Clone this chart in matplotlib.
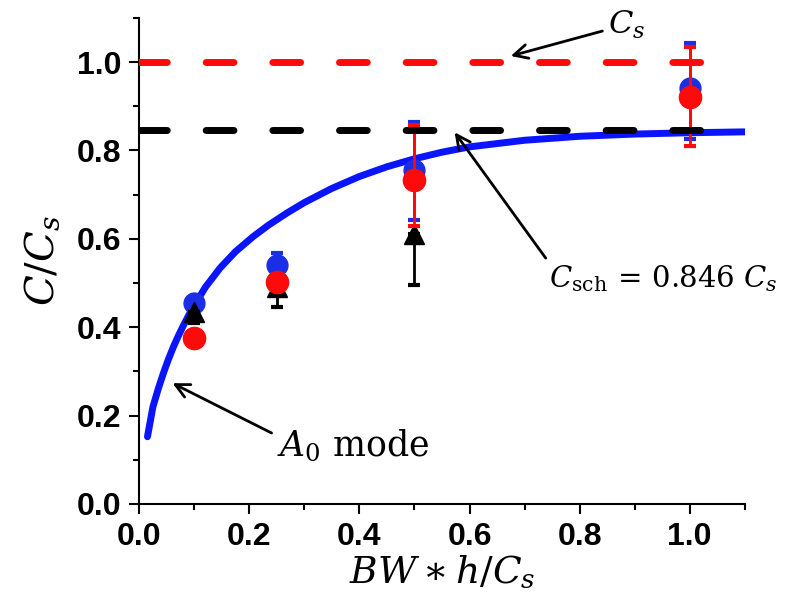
import matplotlib
matplotlib.use("Agg")
import matplotlib.pyplot as plt
import numpy as np

plt.rcParams["mathtext.fontset"] = "dejavuserif"

# measured points (x = BW*h/Cs)
x_meas = [0.1, 0.25, 0.5, 1.0]
blue_y = [0.455, 0.540, 0.756, 0.941]
blue_lo = [0.445, 0.525, 0.642, 0.826]
blue_hi = [0.465, 0.568, 0.864, 1.043]
red_y = [0.376, 0.502, 0.733, 0.921]
red_lo = [0.370, 0.495, 0.629, 0.810]
red_hi = [0.382, 0.510, 0.857, 1.034]
x_tri = [0.1, 0.25, 0.5]
tri_y = [0.434, 0.490, 0.610]
tri_lo = [0.410, 0.446, 0.495]

# A0 mode curve
curve_x = [0.015, 0.025, 0.035, 0.044, 0.053, 0.062, 0.071, 0.08, 0.09, 0.1,
           0.12, 0.147, 0.175, 0.207, 0.235, 0.268, 0.3, 0.35, 0.4, 0.45,
           0.5, 0.55, 0.6, 0.7, 0.8, 0.9, 1.0, 1.1]
curve_y = [0.152, 0.22, 0.262, 0.296, 0.327, 0.355, 0.38, 0.403, 0.427, 0.449,
           0.49, 0.534, 0.571, 0.605, 0.631, 0.658, 0.682, 0.714, 0.741, 0.763,
           0.781, 0.796, 0.808, 0.823, 0.832, 0.837, 0.840, 0.842]

cs_level = 1.0
csch_level = 0.846
line_end = 1.04

fig = plt.figure(figsize=(8, 6.16), dpi=100)
ax = fig.add_axes([0.174, 0.182, 0.757, 0.789])

ax.plot(curve_x, curve_y, color="#0a14ff", lw=5, solid_capstyle="round",
        solid_joinstyle="round", zorder=2)

ax.errorbar(x_meas, blue_y,
            yerr=[np.subtract(blue_y, blue_lo), np.subtract(blue_hi, blue_y)],
            fmt="o", color="#1a2ee6", ms=15, elinewidth=2, capsize=4,
            capthick=3, zorder=3)
ax.errorbar(x_tri, tri_y, yerr=[np.subtract(tri_y, tri_lo), np.zeros(3)],
            fmt="^", color="black", ms=15, elinewidth=2, capsize=4,
            capthick=3, zorder=4)
ax.errorbar(x_meas, red_y,
            yerr=[np.subtract(red_y, red_lo), np.subtract(red_hi, red_y)],
            fmt="o", color="#ff0a0a", ms=16, elinewidth=2, capsize=4,
            capthick=3, zorder=5)

ax.plot([0, line_end], [cs_level, cs_level], color="#ff0a0a", lw=5,
        dashes=(4, 5.6), dash_capstyle="round", zorder=6)
ax.plot([0, line_end], [csch_level, csch_level], color="black", lw=5,
        dashes=(4, 5.6), dash_capstyle="round", zorder=6)

arrow = dict(arrowstyle="->", color="black", lw=2, mutation_scale=25)
ax.annotate(r"$C_s$", xy=(0.67, 1.012), xytext=(0.885, 1.085),
            ha="center", va="center", fontsize=23, arrowprops=arrow,
            annotation_clip=False)
ax.annotate(r"$C_{\rm sch}\,=\,0.846\ C_s$", xy=(0.57, 0.846),
            xytext=(0.745, 0.51), ha="left", va="center", fontsize=21,
            arrowprops=dict(arrow, relpos=(0, 1)), annotation_clip=False)
ax.annotate(r"$A_0\ \rm mode$", xy=(0.056, 0.276), xytext=(0.25, 0.13),
            ha="left", va="center", fontsize=25,
            arrowprops=dict(arrow, relpos=(0, 0.8)))

ax.set_xlim(0, 1.1)
ax.set_ylim(0, 1.1)
ax.set_xticks(np.arange(0, 1.01, 0.2))
ax.set_yticks(np.arange(0, 1.01, 0.2))
ax.set_xticks(np.arange(0.1, 1.11, 0.2), minor=True)
ax.set_yticks(np.arange(0.1, 1.11, 0.2), minor=True)
ax.xaxis.set_major_formatter(matplotlib.ticker.FormatStrFormatter("%.1f"))
ax.yaxis.set_major_formatter(matplotlib.ticker.FormatStrFormatter("%.1f"))

for side in ["top", "right"]:
    ax.spines[side].set_visible(False)
for side in ["left", "bottom"]:
    ax.spines[side].set_linewidth(1.5)
ax.tick_params(which="major", direction="out", length=7, width=1.5,
               labelsize=23, pad=6)
ax.tick_params(which="minor", direction="out", length=4, width=1.5)
for lab in ax.get_xticklabels() + ax.get_yticklabels():
    lab.set_fontweight("bold")
    lab.set_family("Liberation Sans")

ax.set_xlabel(r"$BW\ast h/C_s$", fontsize=27, labelpad=2)
ax.set_ylabel(r"$C/C_s$", fontsize=29, labelpad=10)

fig.savefig("out.png", dpi=100)
